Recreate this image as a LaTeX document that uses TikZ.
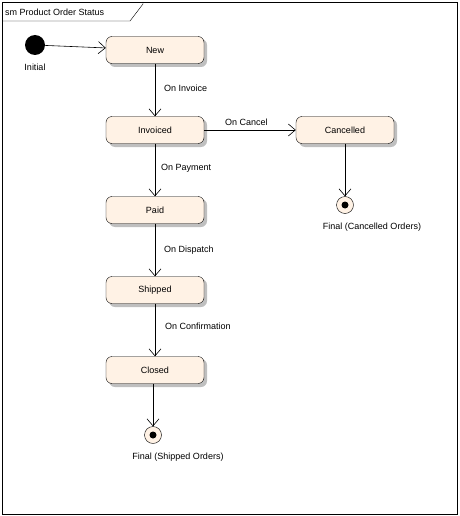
\documentclass[tikz,border=0pt]{standalone}
\usepackage{fontspec}
\setmainfont{Liberation Sans}
\usetikzlibrary{arrows.meta}
\begin{document}
\begin{tikzpicture}[x=1pt,y=-1pt,
  every node/.style={font=\fontsize{9}{11}\selectfont},
  st/.style={draw,rounded corners=6pt,fill=orange!10!white,minimum width=98pt,minimum height=27pt,inner sep=0},
  sh/.style={fill=black!25,rounded corners=6pt},
  tr/.style={draw,line width=0.6pt,-{Straight Barb[length=7pt,width=12pt]}},
  lab/.style={anchor=west,inner sep=0}]
\useasboundingbox (0,0) rectangle (459,516);
\draw (2,2) rectangle (457,514);
\draw (2,21) -- (130,21) -- (143,4) -- (143,2);
\node[anchor=west,inner sep=0] (title) at (5,12) {sm Product Order Status};
\foreach \x/\y in {155/50,155/130,345/130,155/210,155/290,155/370}
  \fill[sh] (\x-46,\y-11) rectangle (\x+52,\y+17);
\node[st] (new) at (155,50) {New};
\node[st] (inv) at (155,130) {Invoiced};
\node[st] (can) at (345,130) {Cancelled};
\node[st] (paid) at (155,210) {Paid};
\node[st] (shp) at (155,290) {Shipped};
\node[st] (cls) at (155,370) {Closed};
\fill (35,45) circle (10);
\node[circle,minimum size=20pt,inner sep=0] (ini) at (35,45) {};
\node[inner sep=0] (inil) at (35,67) {Initial};
\node[circle,draw,fill=orange!10!white,minimum size=17pt,inner sep=0] (f1) at (345,205) {};
\fill (345,205) circle (3.5);
\node[inner sep=0] (f1l) at (372,227) {Final (Cancelled Orders)};
\node[circle,draw,fill=orange!10!white,minimum size=17pt,inner sep=0] (f2) at (153,435) {};
\fill (153,435) circle (3.5);
\node[inner sep=0] (f2l) at (178,457) {Final (Shipped Orders)};
\draw[tr] (ini) -- (new);
\draw[tr] (new) -- (inv);
\draw[tr] (inv) -- (can);
\draw[tr] (inv) -- (paid);
\draw[tr] (paid) -- (shp);
\draw[tr] (shp) -- (cls);
\draw[tr] (can) -- (f1);
\draw[tr] (cls.south -| f2) -- (f2);
\node[lab] (l1) at (164,88) {On Invoice};
\node[lab] (l2) at (225,122) {On Cancel};
\node[lab] (l3) at (161,168) {On Payment};
\node[lab] (l4) at (164,250) {On Dispatch};
\node[lab] (l5) at (165,326) {On Confirmation};
\end{tikzpicture}
\end{document}
